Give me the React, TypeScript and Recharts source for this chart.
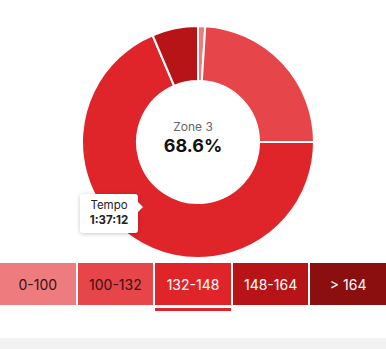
import React from "react";
import { PieChart, Pie, Cell, Tooltip } from "recharts";

// zone ranges and time share per zone (percent)
const zones = ["0-100", "100-132", "132-148", "148-164", "> 164"];
const shares = [1.0, 24.0, 68.6, 6.4, 0];
const zoneColors = ["#ee7b7e", "#e6454a", "#df242a", "#b71418", "#8c0f10"];
const labelColors = ["#3a1010", "#3a1010", "#ffffff", "#ffffff", "#ffffff"];
const zoneNames = ["Zone 1", "Zone 2", "Zone 3", "Zone 4", "Zone 5"];
const activeZone = 2;
const tooltipLabel = "Tempo";
const tooltipTime = "1:37:12";

const data = zones.map((z, i) => ({ name: zoneNames[i], range: z, value: shares[i] }));

const font = "Inter, 'Noto Sans', sans-serif";

const TempoTip = () => (
  <div
    style={{
      position: "relative",
      width: 58,
      height: 39,
      background: "#fff",
      borderRadius: 3,
      boxShadow: "0 1px 4px rgba(0,0,0,0.22)",
      fontFamily: font,
      textAlign: "center",
      color: "#222",
    }}
  >
    <div style={{ fontSize: 11.5, paddingTop: 4, lineHeight: "15px" }}>{tooltipLabel}</div>
    <div style={{ fontSize: 11.5, fontWeight: 700, lineHeight: "15px" }}>{tooltipTime}</div>
    <div
      style={{
        position: "absolute",
        right: -5,
        top: 8,
        width: 0,
        height: 0,
        borderTop: "5px solid transparent",
        borderBottom: "5px solid transparent",
        borderLeft: "5px solid #fff",
      }}
    />
  </div>
);

const App: React.FC = () => {
  return (
    <div
      style={{
        position: "fixed",
        left: 0,
        top: 0,
        width: 386,
        height: 349,
        background: "#fff",
        overflow: "hidden",
        fontFamily: font,
      }}
    >
      <PieChart width={386} height={258}>
        <Pie
          data={data}
          dataKey="value"
          cx={193}
          cy={137}
          innerRadius={61}
          outerRadius={116}
          startAngle={90}
          endAngle={-270}
          stroke="#ffffff"
          strokeWidth={2}
          isAnimationActive={false}
        >
          {data.map((d, i) => (
            <Cell key={d.range} fill={zoneColors[i]} />
          ))}
        </Pie>
        <text x={193} y={131} textAnchor="middle" fontSize={12} fill="#666" fontFamily={font}>
          {zoneNames[activeZone]}
        </text>
        <text x={193} y={152} textAnchor="middle" fontSize={18} fontWeight={700} fill="#111" fontFamily={font}>
          {shares[activeZone].toFixed(1)}%
        </text>
        <Tooltip
          active
          defaultIndex={activeZone}
          position={{ x: 80, y: 194 }}
          isAnimationActive={false}
          cursor={false}
          content={() => <TempoTip />}
          wrapperStyle={{ outline: "none" }}
        />
      </PieChart>

      <div style={{ position: "absolute", left: 0, top: 263, width: 386, display: "flex", gap: 2 }}>
        {zones.map((z, i) => (
          <div key={z} style={{ flex: 1, position: "relative" }}>
            <div
              style={{
                height: 42,
                background: zoneColors[i],
                color: labelColors[i],
                fontSize: 14,
                display: "flex",
                alignItems: "center",
                justifyContent: "center",
              }}
            >
              {z}
            </div>
            {i === activeZone && (
              <div style={{ height: 3, marginTop: 3, background: zoneColors[i] }} />
            )}
          </div>
        ))}
      </div>

      <div style={{ position: "absolute", left: 0, top: 338, width: 386, height: 11, background: "#f2f2f2" }} />
    </div>
  );
};

export default App;
